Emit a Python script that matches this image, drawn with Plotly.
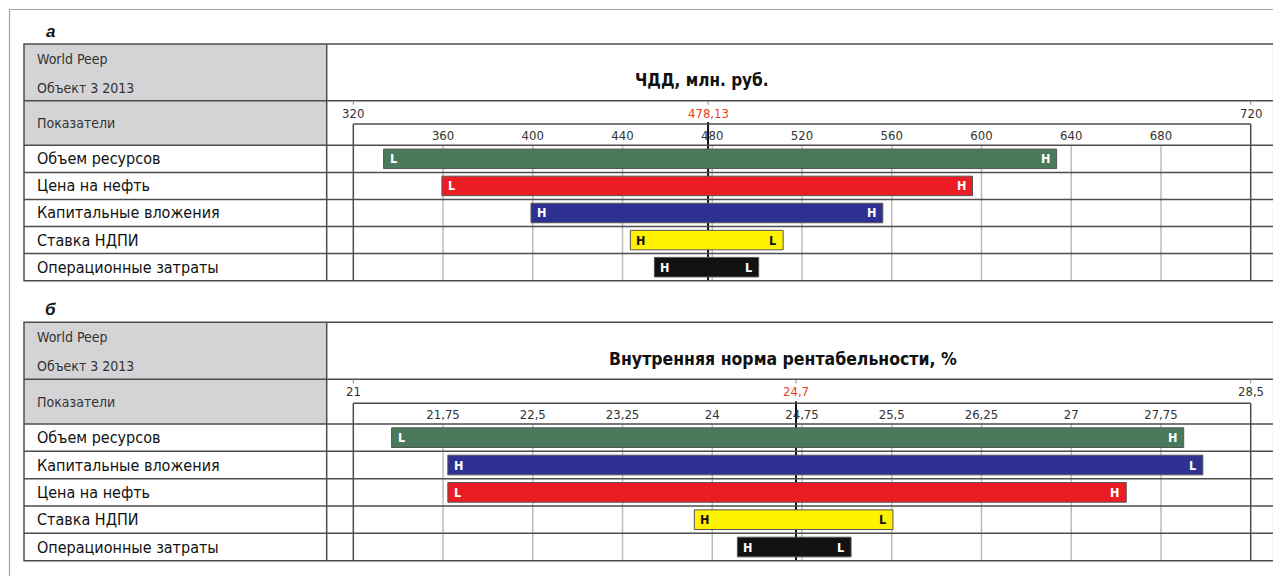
import plotly.graph_objects as go

# page body adds an 8px margin; the figure is sized so that it fills the 1281x576 window
OFF = 8
W, H = 1281 - OFF, 576 - OFF

# ---------------- data ----------------
npv_title = "ЧДД, млн. руб."
npv_rows = ["Объем ресурсов", "Цена на нефть", "Капитальные вложения", "Ставка НДПИ", "Операционные затраты"]
npv_low = [333.5, 359.5, 399.2, 443.5, 454.2]
npv_high = [633.5, 596.0, 556.0, 511.6, 500.7]
npv_left_tag = ["L", "L", "H", "H", "H"]
npv_right_tag = ["H", "H", "H", "L", "L"]
npv_colors = ["#4a7a5b", "#ec1c24", "#2e3192", "#fff200", "#111111"]
npv_base = 478.13
npv_base_text = "478,13"
npv_range = [320, 720]
npv_range_text = ["320", "720"]
npv_ticks = [360, 400, 440, 480, 520, 560, 600, 640, 680]
npv_ticktext = ["360", "400", "440", "480", "520", "560", "600", "640", "680"]

irr_title = "Внутренняя норма рентабельности, %"
irr_rows = ["Объем ресурсов", "Капитальные вложения", "Цена на нефть", "Ставка НДПИ", "Операционные затраты"]
irr_low = [21.32, 21.79, 21.79, 23.85, 24.21]
irr_high = [27.94, 28.10, 27.46, 25.51, 25.16]
irr_left_tag = ["L", "H", "L", "H", "H"]
irr_right_tag = ["H", "L", "H", "L", "L"]
irr_colors = ["#4a7a5b", "#2e3192", "#ec1c24", "#fff200", "#111111"]
irr_base = 24.7
irr_base_text = "24,7"
irr_range = [21, 28.5]
irr_range_text = ["21", "28,5"]
irr_ticks = [21.75, 22.5, 23.25, 24, 24.75, 25.5, 26.25, 27, 27.75]
irr_ticktext = ["21,75", "22,5", "23,25", "24", "24,75", "25,5", "26,25", "27", "27,75"]

header1 = "World Peep"
header2 = "Объект 3 2013"
header3 = "Показатели"
panel_labels = ["а", "б"]

# ---------------- style ----------------
FONT = "Liberation Sans Narrow, Arial Narrow, DejaVu Sans Condensed, Liberation Sans, sans-serif"
LINE = "#4d4d4d"
GRID = "#bcbcbc"


def px(x):
    return (x - OFF) / W


def py(y):
    return 1 - (y - OFF) / H


fig = go.Figure()
shapes = []
annotations = []

TABLE_L, TABLE_R, COL_R = 24, 1273.7, 326.7
BOX_L, BOX_R = 353.3, 1250.7


def note(**kw):
    kw.setdefault("showarrow", False)
    kw.setdefault("xanchor", "center")
    kw.setdefault("yanchor", "middle")
    annotations.append(kw)


panels = [
    dict(title=npv_title, rows=npv_rows, low=npv_low, high=npv_high, lt=npv_left_tag, rt=npv_right_tag,
         colors=npv_colors, base=npv_base, base_text=npv_base_text, rng=npv_range, rng_text=npv_range_text,
         ticks=npv_ticks, ticktext=npv_ticktext, top=44, h1=100.7, h2=145.3, box_top=124, bottom=280.7,
         title_x=702, title_size=17, label_y=31, xa="x", ya="y"),
    dict(title=irr_title, rows=irr_rows, low=irr_low, high=irr_high, lt=irr_left_tag, rt=irr_right_tag,
         colors=irr_colors, base=irr_base, base_text=irr_base_text, rng=irr_range, rng_text=irr_range_text,
         ticks=irr_ticks, ticktext=irr_ticktext, top=322.3, h1=379.3, h2=424, box_top=403.3, bottom=560.7,
         title_x=783, title_size=17.5, label_y=309, xa="x2", ya="y2"),
]

layout_axes = {}
for i, p in enumerate(panels):
    n = len(p["rows"])
    row_h = (p["bottom"] - p["h2"]) / n
    spare = (p["h2"] - p["box_top"]) / row_h
    xa, ya = p["xa"], p["ya"]
    xkey = "xaxis" if xa == "x" else "xaxis2"
    ykey = "yaxis" if ya == "y" else "yaxis2"

    fig.add_trace(go.Bar(
        orientation="h", y=p["rows"], x=[h - l for l, h in zip(p["low"], p["high"])], base=p["low"],
        marker=dict(color=p["colors"], line=dict(color="#555555", width=1)),
        width=0.72, xaxis=xa, yaxis=ya, showlegend=False, hoverinfo="skip"))

    layout_axes[xkey] = dict(
        domain=[px(BOX_L), px(BOX_R)], range=p["rng"], anchor=ya, side="top",
        tickvals=p["ticks"], ticktext=p["ticktext"], ticklabelposition="inside", ticks="",
        ticklabelstandoff=4,
        showgrid=False, zeroline=False, showline=False,
        tickfont=dict(family=FONT, size=13, color="#333333"), fixedrange=True)
    layout_axes[ykey] = dict(
        domain=[py(p["bottom"]), py(p["box_top"])], range=[n - 0.5, -0.5 - spare],
        type="category", categoryarray=p["rows"], showticklabels=False, showgrid=False,
        zeroline=False, showline=False, anchor=xa, fixedrange=True)

    xref, yref = xa, ya
    for t in p["ticks"]:
        shapes.append(dict(type="line", xref=xref, yref="paper", x0=t, x1=t,
                           y0=py(p["h2"]), y1=py(p["bottom"]), line=dict(color=GRID, width=1.5), layer="below"))
    shapes.append(dict(type="line", xref=xref, yref="paper", x0=p["base"], x1=p["base"],
                       y0=py(p["box_top"] - 2), y1=py(p["bottom"]), line=dict(color="#111111", width=2), layer="below"))
    shapes.append(dict(type="line", xref=xref, yref="paper", x0=p["base"], x1=p["base"],
                       y0=py(p["h1"]), y1=py(p["h1"] + 4), line=dict(color="#888888", width=1)))

    shapes.append(dict(type="rect", xref="paper", yref="paper", x0=px(TABLE_L), x1=px(COL_R),
                       y0=py(p["h2"]), y1=py(p["top"]), fillcolor="#d4d4d6", line=dict(width=0), layer="below"))
    shapes.append(dict(type="rect", xref="paper", yref="paper", x0=px(TABLE_L), x1=px(TABLE_R),
                       y0=py(p["bottom"]), y1=py(p["top"]), line=dict(color=LINE, width=1.5)))
    shapes.append(dict(type="line", xref="paper", yref="paper", x0=px(COL_R), x1=px(COL_R),
                       y0=py(p["bottom"]), y1=py(p["top"]), line=dict(color=LINE, width=1.5)))
    shapes.append(dict(type="line", xref="paper", yref="paper", x0=px(TABLE_L), x1=px(TABLE_R),
                       y0=py(p["h1"]), y1=py(p["h1"]), line=dict(color=LINE, width=1.5)))
    for k in range(n):
        yy = p["h2"] + k * row_h
        shapes.append(dict(type="line", xref="paper", yref="paper", x0=px(TABLE_L), x1=px(TABLE_R),
                           y0=py(yy), y1=py(yy), line=dict(color=LINE, width=1.5)))
    shapes.append(dict(type="line", xref="paper", yref="paper", x0=px(BOX_L), x1=px(BOX_R),
                       y0=py(p["box_top"]), y1=py(p["box_top"]), line=dict(color=LINE, width=1.5)))
    for bx in (BOX_L, BOX_R):
        shapes.append(dict(type="line", xref="paper", yref="paper", x0=px(bx), x1=px(bx),
                           y0=py(p["box_top"]), y1=py(p["bottom"]), line=dict(color=LINE, width=1.5)))
        shapes.append(dict(type="line", xref="paper", yref="paper", x0=px(bx), x1=px(bx),
                           y0=py(p["h1"]), y1=py(p["h1"] + 4), line=dict(color="#888888", width=1)))

    # texts
    note(xref="paper", yref="paper", x=px(50), y=py(p["label_y"]), text="<b><i>%s</i></b>" % panel_labels[i],
         font=dict(family="Liberation Sans, Arial, sans-serif", size=17, color="#111111"))
    note(xref="paper", yref="paper", x=px(p["title_x"]), y=py((p["top"] + p["h1"]) / 2 + 8),
         text="<b>%s</b>" % p["title"], font=dict(family=FONT, size=p["title_size"], color="#111111"))
    note(xref="paper", yref="paper", x=px(35), y=py(p["top"] + 15), xanchor="left",
         text=header1, font=dict(family=FONT, size=14, color="#333333"))
    note(xref="paper", yref="paper", x=px(35), y=py(p["top"] + 44), xanchor="left",
         text=header2, font=dict(family=FONT, size=14, color="#333333"))
    note(xref="paper", yref="paper", x=px(35), y=py((p["h1"] + p["h2"]) / 2), xanchor="left",
         text=header3, font=dict(family=FONT, size=14, color="#333333"))
    lab_y = py(p["h1"] + 12.5)
    for v, t in zip(p["rng"], p["rng_text"]):
        note(xref=xref, yref="paper", x=v, y=lab_y, text=t, font=dict(family=FONT, size=13, color="#333333"))
    note(xref=xref, yref="paper", x=p["base"], y=lab_y, text=p["base_text"],
         font=dict(family=FONT, size=13, color="#e8401c"))
    for r in p["rows"]:
        note(xref="paper", yref=yref, x=px(35), y=r, xanchor="left", text=r,
             font=dict(family=FONT, size=16, color="#111111"))
    for r, l, h, tl, tr, c in zip(p["rows"], p["low"], p["high"], p["lt"], p["rt"], p["colors"]):
        fc = "#111111" if c == "#fff200" else "#ffffff"
        note(xref=xref, yref=yref, x=l, y=r, xanchor="left", xshift=4, text="<b>%s</b>" % tl,
             font=dict(family=FONT, size=12.5, color=fc))
        note(xref=xref, yref=yref, x=h, y=r, xanchor="right", xshift=-5, text="<b>%s</b>" % tr,
             font=dict(family=FONT, size=12.5, color=fc))

# outer frame
shapes.append(dict(type="rect", xref="paper", yref="paper", x0=px(9.5), x1=px(1300), y0=py(600), y1=py(9.5),
                   line=dict(color="#9aa8b6", width=1.2), layer="below"))

fig.update_layout(
    width=W, height=H, margin=dict(l=0, r=0, t=0, b=0),
    paper_bgcolor="#ffffff", plot_bgcolor="rgba(0,0,0,0)",
    barmode="overlay", shapes=shapes, annotations=annotations, showlegend=False,
    **layout_axes)

fig.write_html("out.html")
